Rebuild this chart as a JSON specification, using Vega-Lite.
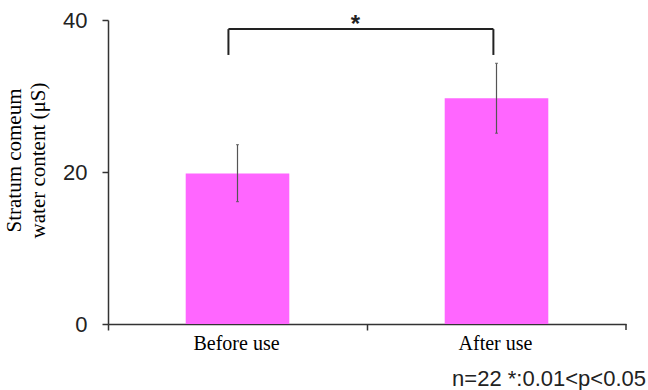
{
  "$schema": "https://vega.github.io/schema/vega-lite/v6.json",
  "width": 518,
  "height": 304,
  "autosize": {"type": "none"},
  "padding": {"left": 108, "top": 20, "right": 22, "bottom": 66},
  "background": "white",
  "config": {"view": {"stroke": null}},
  "data": {"values": [
    {"group": "Before use", "mean": 19.8, "lo": 16.1, "hi": 23.6},
    {"group": "After use", "mean": 29.7, "lo": 25.1, "hi": 34.3}
  ]},
  "encoding": {
    "x": {"field": "group", "type": "nominal",
      "scale": {"domain": ["Before use", "After use"], "paddingInner": 0, "paddingOuter": 0},
      "axis": {"title": null, "labelAngle": 0, "bandPosition": 0, "domainColor": "#333", "domainWidth": 1.5,
        "tickColor": "#333", "tickWidth": 1.5, "tickSize": 6, "labelFont": "Liberation Serif", "labelFontSize": 20,
        "labelColor": "black", "labelPadding": 3, "labelOffset": -1}
    }
  },
  "layer": [
    {
      "mark": {"type": "bar", "color": "#ff66ff", "width": {"band": 0.4}},
      "encoding": {
        "y": {"field": "mean", "type": "quantitative", "scale": {"domain": [0, 40]},
          "axis": {"values": [0, 20, 40], "grid": false, "title": ["Stratum comeum", "water content (μS)"],
            "titleFont": "Liberation Serif", "titleFontSize": 21, "titleFontWeight": "normal", "titleColor": "black",
            "titleLineHeight": 24, "titleAngle": -90, "titleBaseline": "top", "titleAlign": "center",
            "titleX": -105, "titleY": 140,
            "labelFont": "Liberation Sans", "labelFontSize": 22, "labelColor": "#222", "labelPadding": 15,
            "domainColor": "#333", "domainWidth": 1.5, "tickColor": "#333", "tickWidth": 1.5, "tickSize": 6}
        }
      }
    },
    {
      "mark": {"type": "rule", "color": "#555", "strokeWidth": 1.2},
      "encoding": {"y": {"field": "lo", "type": "quantitative"}, "y2": {"field": "hi"}}
    },
    {
      "mark": {"type": "tick", "color": "#555", "size": 3, "thickness": 1.2},
      "encoding": {"y": {"field": "hi", "type": "quantitative"}}
    },
    {
      "mark": {"type": "tick", "color": "#555", "size": 3, "thickness": 1.2},
      "encoding": {"y": {"field": "lo", "type": "quantitative"}}
    },
    {
      "data": {"values": [{"group": "After use", "a": 0, "b": -0.8}]},
      "mark": {"type": "rule", "color": "#333", "strokeWidth": 1.5},
      "encoding": {
        "x": {"field": "group", "type": "nominal", "bandPosition": 1},
        "y": {"field": "a", "type": "quantitative"}, "y2": {"field": "b"}
      }
    },
    {
      "data": {"values": [{"group": "Before use", "a": 35.4, "b": 38.8}]},
      "mark": {"type": "rule", "color": "#222", "strokeWidth": 2},
      "encoding": {
        "x": {"field": "group", "type": "nominal", "bandPosition": 0.465},
        "y": {"field": "a", "type": "quantitative"}, "y2": {"field": "b"}
      }
    },
    {
      "data": {"values": [{"group": "After use", "a": 35.4, "b": 38.8}]},
      "mark": {"type": "rule", "color": "#222", "strokeWidth": 2},
      "encoding": {
        "x": {"field": "group", "type": "nominal", "bandPosition": 0.488},
        "y": {"field": "a", "type": "quantitative"}, "y2": {"field": "b"}
      }
    },
    {
      "data": {"values": [{"g1": "Before use", "g2": "After use", "a": 38.8}]},
      "mark": {"type": "rule", "color": "#222", "strokeWidth": 2},
      "encoding": {
        "x": {"field": "g1", "type": "nominal", "bandPosition": 0.465},
        "x2": {"field": "g2", "bandPosition": 0.488},
        "y": {"field": "a", "type": "quantitative"}
      }
    },
    {
      "data": {"values": [{"g": "Before use", "a": 39.7, "t": "*"}]},
      "mark": {"type": "text", "font": "Liberation Sans", "fontSize": 24, "fontWeight": "bold", "color": "#222", "baseline": "middle", "align": "center", "dy": 3},
      "encoding": {
        "x": {"field": "g", "type": "nominal", "bandPosition": 0.955},
        "y": {"field": "a", "type": "quantitative"},
        "text": {"field": "t"}
      }
    },
    {
      "data": {"values": [{"g": "After use", "a": -7.2, "t": "n=22 *:0.01<p<0.05"}]},
      "mark": {"type": "text", "font": "Liberation Sans", "fontSize": 22, "color": "#222", "baseline": "middle", "align": "right", "dx": 20},
      "encoding": {
        "x": {"field": "g", "type": "nominal", "bandPosition": 1},
        "y": {"field": "a", "type": "quantitative"},
        "text": {"field": "t"}
      }
    }
  ]
}
